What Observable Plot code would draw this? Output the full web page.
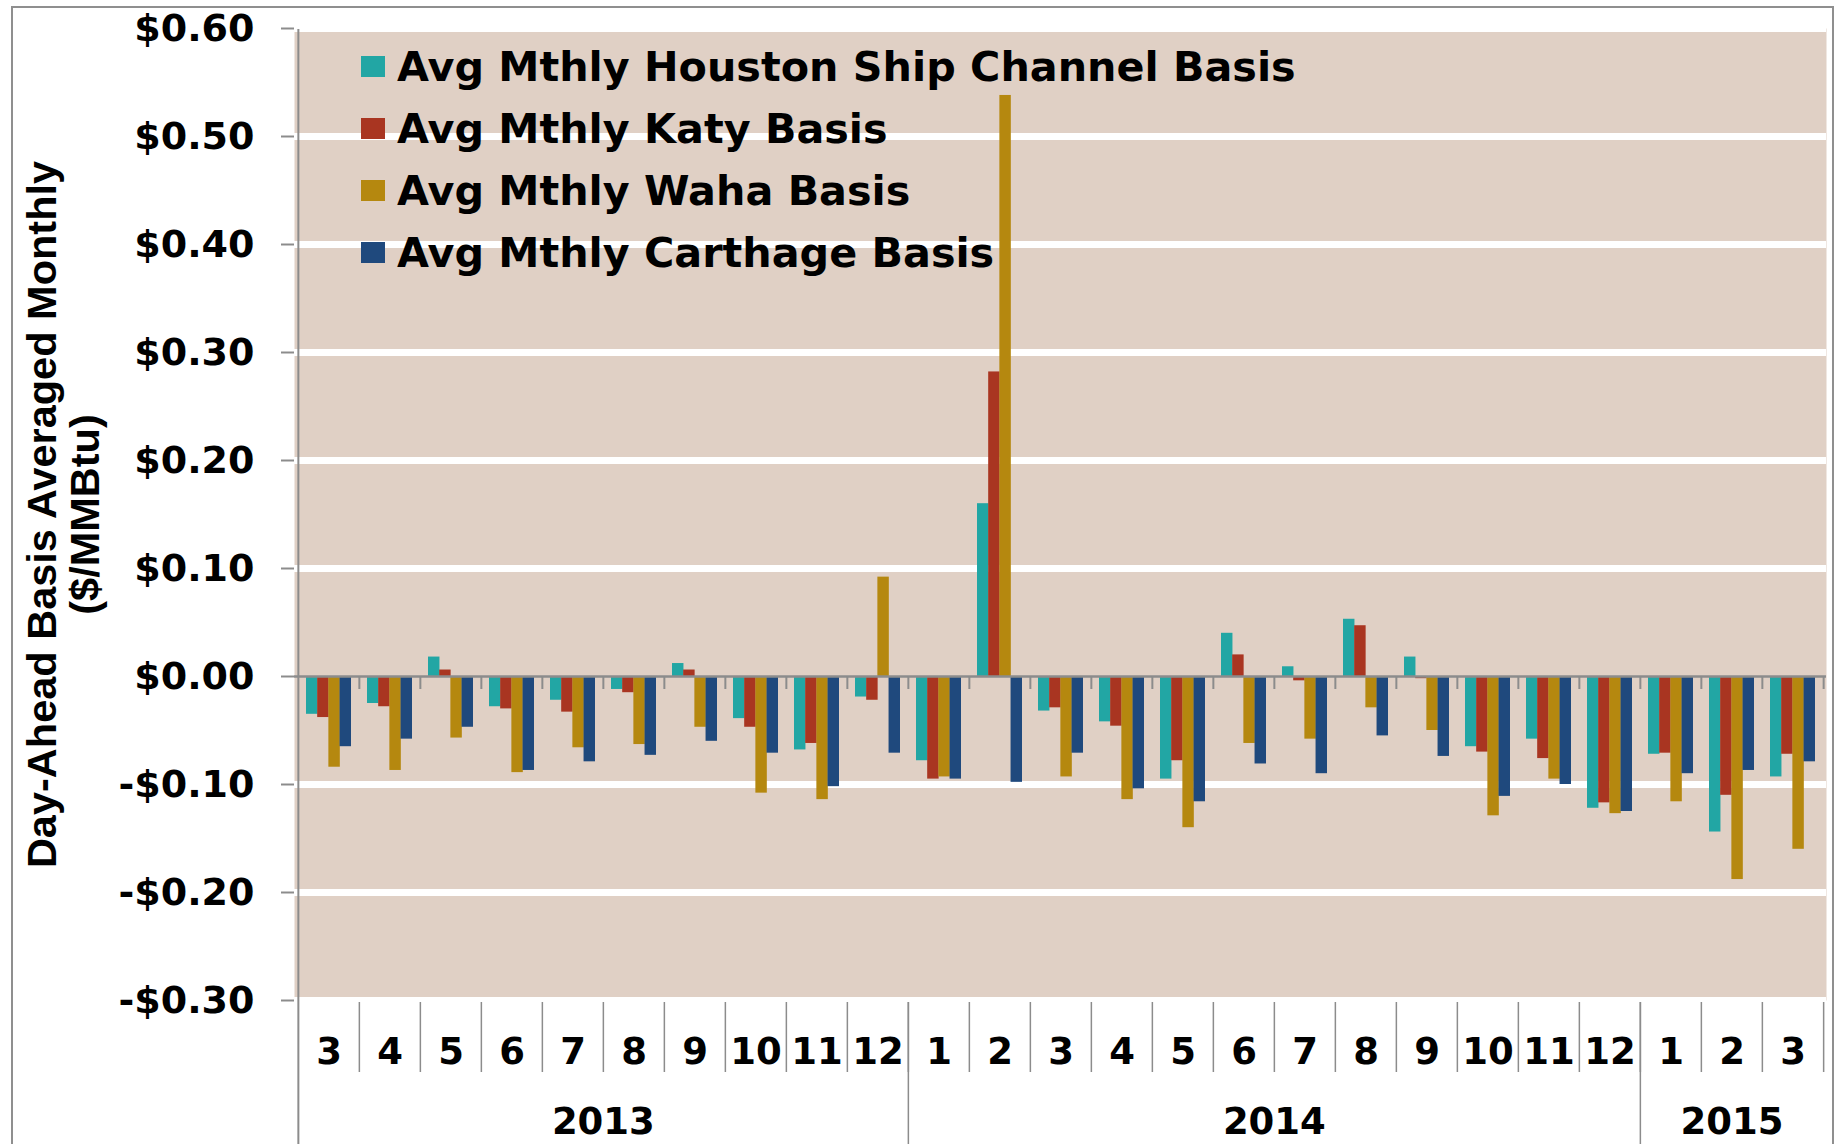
<!DOCTYPE html>
<html><head><meta charset="utf-8">
<script src="https://cdn.jsdelivr.net/npm/d3@7"></script>
<script src="https://cdn.jsdelivr.net/npm/@observablehq/plot@0.6"></script>
<style>
html,body{margin:0;padding:0;background:#fff;}
#wrap{position:relative;width:1843px;height:1144px;overflow:hidden;}
#chart{position:absolute;left:0;top:0;}
#border{position:absolute;left:11px;top:6px;width:1823px;height:1300px;border:2px solid #8f8f8f;box-sizing:border-box;pointer-events:none;}
.sw{position:absolute;width:24px;height:21px;}
.lt{position:absolute;font-family:"DejaVu Sans",sans-serif;font-weight:bold;font-size:41.3px;line-height:41px;white-space:nowrap;color:#000;}
</style></head>
<body><div id="wrap"><div id="chart"></div><div id="legend"></div><div id="border"></div></div>
<script>
// ---- data ----
const monthNums = [3,4,5,6,7,8,9,10,11,12, 1,2,3,4,5,6,7,8,9,10,11,12, 1,2,3];
const years = ["2013","2014","2015"];
const monthsInYear = [10,12,3];
const seriesNames = ["Avg Mthly Houston Ship Channel Basis","Avg Mthly Katy Basis","Avg Mthly Waha Basis","Avg Mthly Carthage Basis"];
const seriesColors = ["#22a6a4","#a93521","#b5880f","#1f497d"];
const houston  = [-0.035,-0.025,0.018,-0.028,-0.022,-0.012,0.012,-0.039,-0.068,-0.019, -0.078,0.160,-0.032,-0.042,-0.095,0.040,0.009,0.053,0.018,-0.065,-0.058,-0.122, -0.072,-0.144,-0.093];
const katy     = [-0.038,-0.028,0.006,-0.030,-0.033,-0.015,0.006,-0.047,-0.062,-0.022, -0.095,0.282,-0.029,-0.046,-0.078,0.020,-0.004,0.047,-0.002,-0.070,-0.076,-0.117, -0.071,-0.110,-0.072];
const waha     = [-0.084,-0.087,-0.057,-0.089,-0.066,-0.063,-0.047,-0.108,-0.114,0.092, -0.093,0.538,-0.093,-0.114,-0.140,-0.062,-0.058,-0.029,-0.050,-0.129,-0.095,-0.127, -0.116,-0.188,-0.160];
const carthage = [-0.065,-0.058,-0.047,-0.087,-0.079,-0.073,-0.060,-0.071,-0.102,-0.071, -0.095,-0.098,-0.071,-0.104,-0.116,-0.081,-0.090,-0.055,-0.074,-0.111,-0.100,-0.125, -0.090,-0.087,-0.079];
const yTicks = [-0.3,-0.2,-0.1,0,0.1,0.2,0.3,0.4,0.5,0.6];
const yTitle = "Day-Ahead Basis Averaged Monthly\n($/MMBtu)";

// ---- layout ----
const W = 1843, H = 1144, mL = 294, mR = W - 1826, mT = 28, mB = H - 1000;
const plotH = H - mT - mB;
const gray = "#8c8c8c", beige = "#e0d0c5";
const padIn = 0.27;

const keys = [];
years.forEach((y, j) => { for (let k = 0; k < monthsInYear[j]; k++) keys.push(y + "-" + monthNums[keys.length]); });
const monthOf = new Map(keys.map((k, i) => [k, monthNums[i]]));
const step = (W - mL - mR) / keys.length;
const barW = step * (1 - padIn) / 4;
const seriesValues = [houston, katy, waha, carthage];
const rows = seriesValues.flatMap((vals, s) => vals.map((v, i) => ({key: keys[i], series: seriesNames[s], value: v})));

const yearStarts = [];
{ let s = 0; monthsInYear.forEach(n => { yearStarts.push(s); s += n; }); }

const fmt = d => (d < 0 ? "-" : "") + "$" + Math.abs(d).toFixed(2);
const pxPerUnit = plotH / 0.9;
const font = {fontFamily: "DejaVu Sans", fontWeight: "bold"};

const marks = [
  Plot.frame({fill: beige, stroke: "none"}),
  Plot.ruleY(yTicks.filter(d => d !== 0), {stroke: "#fff", strokeWidth: 7}),
  ...seriesNames.map((name, i) => Plot.barY(rows.filter(r => r.series === name), {
    x: "key", y: "value", fill: "series",
    insetLeft: i * barW, insetRight: (3 - i) * barW
  })),
  Plot.ruleY([0], {stroke: gray, strokeWidth: 2.5}),
  // small ticks under zero line at category boundaries
  Plot.ruleX(keys.slice(1), {x: d => d, y1: 0, y2: -13 / pxPerUnit, dx: -step / 2, stroke: gray, strokeWidth: 2}),
  Plot.ruleX([keys[keys.length - 1]], {x: d => d, y1: 0, y2: -13 / pxPerUnit, dx: step / 2, stroke: gray, strokeWidth: 2}),
  // left axis line (extends through the category label area)
  Plot.ruleX([keys[0]], {x: d => d, dx: -step / 2, insetTop: 1, insetBottom: -mB, stroke: gray, strokeWidth: 2}),
  // month dividers below the plot
  Plot.ruleX(keys.slice(1), {x: d => d, dx: -step / 2, insetTop: plotH + 2, insetBottom: -72, stroke: gray, strokeWidth: 1.5}),
  Plot.ruleX([keys[keys.length - 1]], {x: d => d, dx: step / 2, insetTop: plotH + 2, insetBottom: -72, stroke: gray, strokeWidth: 1.5}),
  // year dividers
  Plot.ruleX(yearStarts.slice(1).map(i => keys[i]), {x: d => d, dx: -step / 2, insetTop: plotH + 2, insetBottom: -mB, stroke: gray, strokeWidth: 1.5}),
  Plot.axisY(yTicks, {tickFormat: fmt, tickSize: 13, tickPadding: 27, stroke: gray, strokeWidth: 2, fontSize: 38, ...font, label: null}),
  Plot.axisX({tickSize: 0, tickPadding: 37, tickFormat: k => monthOf.get(k), fontSize: 37, ...font, label: null}),
  ...years.map((y, j) => {
    const n = monthsInYear[j], s = yearStarts[j];
    const even = n % 2 === 0;
    const key = even ? keys[s + n / 2] : keys[s + (n - 1) / 2];
    return Plot.text([{y, key}], {x: "key", text: "y", frameAnchor: "bottom", lineAnchor: "top", dy: 107, dx: even ? -step / 2 : 0, fontSize: 37, ...font});
  }),
  Plot.text([yTitle], {frameAnchor: "left", rotate: -90, dx: 63.5 - mL, textAnchor: "middle", lineAnchor: "middle", lineHeight: 1.02, fontSize: 41.5, fontFamily: "Liberation Sans, Arial, sans-serif", fontWeight: "bold"})
];

const chart = Plot.plot({
  width: W, height: H,
  marginLeft: mL, marginRight: mR, marginTop: mT, marginBottom: mB,
  style: {background: "transparent", overflow: "visible"},
  x: {type: "band", domain: keys, paddingInner: padIn, paddingOuter: padIn / 2},
  y: {domain: [-0.3, 0.6]},
  color: {domain: seriesNames, range: seriesColors},
  marks
});
document.getElementById("chart").appendChild(chart);

// legend (inside the plot area, top-left)
const legend = document.getElementById("legend");
seriesNames.forEach((name, i) => {
  const sw = document.createElement("div");
  sw.className = "sw";
  sw.style.left = "361px";
  sw.style.top = (56 + 62 * i) + "px";
  sw.style.background = seriesColors[i];
  legend.appendChild(sw);
  const t = document.createElement("div");
  t.className = "lt";
  t.style.left = "397px";
  t.style.top = (47 + 62 * i) + "px";
  t.textContent = name;
  legend.appendChild(t);
});
</script>
</body></html>
